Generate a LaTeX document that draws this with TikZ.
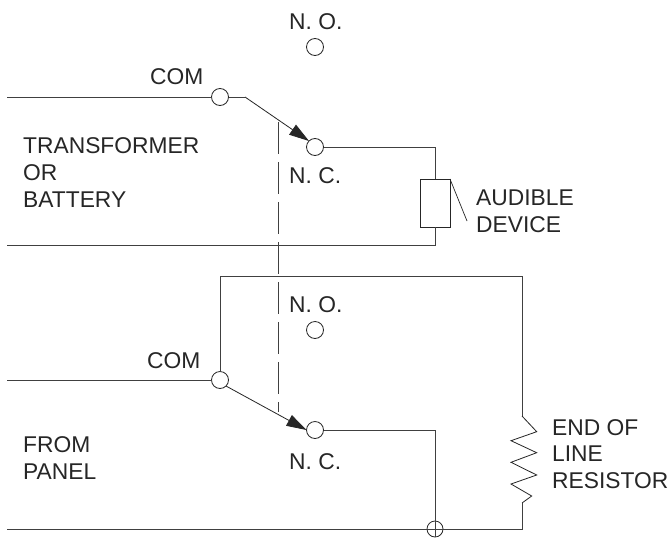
\documentclass[tikz,border=0pt]{standalone}
\usepackage{fontspec}
\setmainfont{Liberation Sans}
\usetikzlibrary{arrows.meta}
\tikzset{
  x=1pt,y=-1pt,
  wire/.style={draw=black!75,line width=0.9pt},
  link/.style={draw=black!75,line width=0.9pt,dash pattern=on 32pt off 8pt},
  contact/.style={circle,draw=black!85,fill=white,line width=0.8pt,minimum size=17pt,inner sep=0pt,outer sep=0pt},
  joint/.style={circle,draw=black!85,line width=0.8pt,minimum size=16pt,inner sep=0pt,outer sep=0pt},
  lbl/.style={font=\fontsize{22.8pt}{27pt}\selectfont,text=black!85,inner sep=0pt,align=left},
  blade/.style={draw=black!85,line width=0.8pt,-{Triangle[length=20pt,width=12pt]}}
}
\begin{document}
\begin{tikzpicture}
\useasboundingbox (0,0) rectangle (668,538);
\fill[white] (0,0) rectangle (668,538);
% coordinates
\coordinate (l1) at (7,97);
\coordinate (b1) at (245,97);
\coordinate (l2) at (7,245);
\coordinate (l3) at (7,380);
\coordinate (t2) at (522,276);
\coordinate (l4) at (7,529);
\coordinate (r4) at (522,529);
\coordinate (rt) at (522,416);
\coordinate (rb) at (522,503);
\coordinate (ds1) at (278,122);
\coordinate (ds2) at (278,412);
\coordinate (tick1) at (450,179);
\coordinate (tick2) at (467,221);
% link
\draw[link] (ds1) -- (ds2);
% contacts
\node[contact] (no1) at (315,47) {};
\node[contact] (com1) at (220,97) {};
\node[contact] (nc1) at (315,147) {};
\node[contact] (no2) at (315,330) {};
\node[contact] (com2) at (220,380) {};
\node[contact] (nc2) at (315,430) {};
\node[joint] (j) at (435,529) {};
\node[draw=black!85,line width=0.8pt,minimum width=30pt,minimum height=48pt,inner sep=0pt,outer sep=0pt] (dev) at (435,203) {};
% wires
\draw[wire] (l1) -- (com1.west);
\draw[wire] (com1.east) -- (b1);
\draw[blade] (b1) -- (nc1.north west);
\draw[wire] (nc1.east) -| (dev.north);
\draw[wire] (dev.south) |- (l2);
\draw[draw=black!85,line width=0.7pt] (tick1) -- (tick2);
\draw[wire] (l3) -- (com2.west);
\draw[wire] (com2.north) |- (t2) -- (rt);
\draw[blade] (com2.south east) -- (nc2.west);
\draw[wire] (nc2.east) -| (j.south);
\draw[wire] (l4) -- (r4) -- (rb);
\draw[draw=black!85,line width=0.8pt] (rt) -- (536.7,431.7) -- (511,440.7) -- (536.7,452.7) -- (511,462.3) -- (536.7,475) -- (511,484) -- (531.7,496) -- (rb);
% labels
\node[lbl,anchor=west] (tno1) at (289,22) {N. O.};
\node[lbl,anchor=west] (tcom1) at (150,77) {COM};
\node[lbl,anchor=west] (tnc1) at (289,176) {N. C.};
\node[lbl,anchor=north west] (ttr) at (23,137) {TRANSFORMER\\OR\\BATTERY};
\node[lbl,anchor=north west] (taud) at (476,190) {AUDIBLE\\DEVICE};
\node[lbl,anchor=west] (tno2) at (289,305) {N. O.};
\node[lbl,anchor=west] (tcom2) at (147,361) {COM};
\node[lbl,anchor=west] (tnc2) at (289,462) {N. C.};
\node[lbl,anchor=north west] (tfp) at (23,436) {FROM\\PANEL};
\node[lbl,anchor=north west,font=\fontsize{22.8pt}{26.5pt}\selectfont] (tend) at (552,419) {END OF\\LINE\\RESISTOR};
\end{tikzpicture}
\end{document}
